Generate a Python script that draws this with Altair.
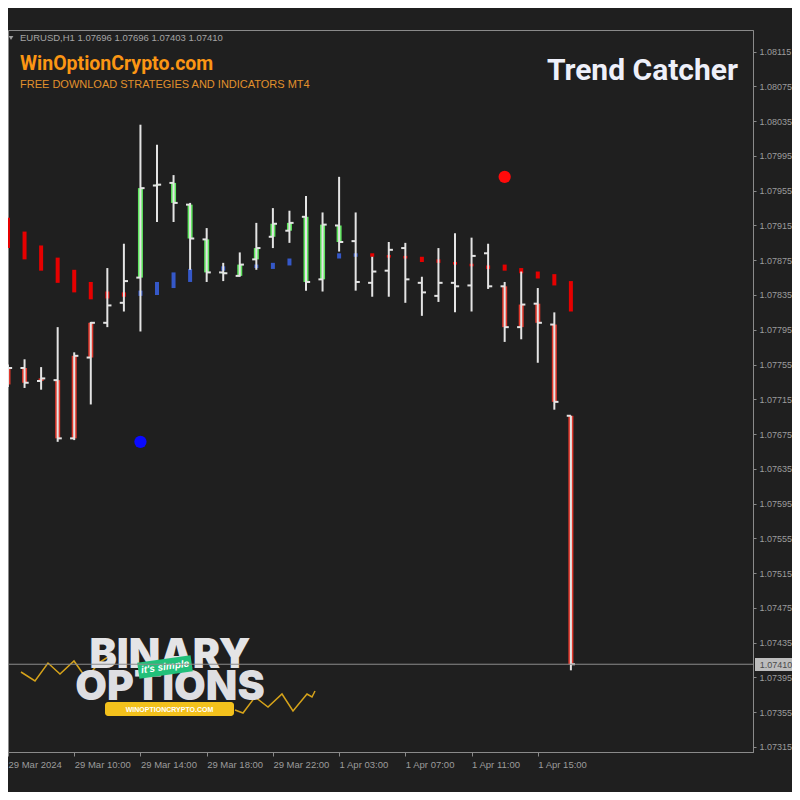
import json
import altair as alt
import pandas as pd

# ---------------- data ----------------
bar_idx = list(range(35))
opens = [1.07732, 1.07751, 1.07736, 1.07737, 1.07670, 1.07763, 1.07803, 1.07826, 1.07855, 1.07961,
         1.07964, 1.07939, 1.07899, 1.07861, 1.07857, 1.07876, 1.07902, 1.07909, 1.07925, 1.07853,
         1.07915, 1.07897, 1.07849, 1.07863, 1.07889, 1.07849, 1.07834, 1.07849, 1.07846, 1.07883,
         1.07845, 1.07798, 1.07825, 1.07801, 1.07696]
highs = [1.07755, 1.07761, 1.07752, 1.07798, 1.07769, 1.07804, 1.07866, 1.07894, 1.08031, 1.08008,
         1.07973, 1.07941, 1.07912, 1.07872, 1.07884, 1.07918, 1.07935, 1.07932, 1.07949, 1.07930,
         1.07971, 1.07930, 1.07879, 1.07896, 1.07895, 1.07856, 1.07889, 1.07906, 1.07901, 1.07894,
         1.07850, 1.07862, 1.07843, 1.07815, 1.07696]
lows = [1.07729, 1.07728, 1.07726, 1.07666, 1.07668, 1.07709, 1.07798, 1.07816, 1.07793, 1.07919,
        1.07919, 1.07864, 1.07850, 1.07851, 1.07856, 1.07864, 1.07889, 1.07895, 1.07840, 1.07839,
        1.07885, 1.07840, 1.07833, 1.07833, 1.07826, 1.07811, 1.07827, 1.07815, 1.07816, 1.07842,
        1.07781, 1.07784, 1.07757, 1.07703, 1.07403]
closes = [1.07751, 1.07734, 1.07739, 1.07670, 1.07765, 1.07803, 1.07823, 1.07851, 1.07958, 1.07962,
          1.07941, 1.07900, 1.07861, 1.07860, 1.07870, 1.07889, 1.07917, 1.07918, 1.07850, 1.07916,
          1.07896, 1.07850, 1.07862, 1.07887, 1.07853, 1.07838, 1.07849, 1.07845, 1.07880, 1.07845,
          1.07798, 1.07824, 1.07803, 1.07712, 1.07410]
# body colour of the Trend Catcher histogram: r = bearish, g = bullish, n = none
body_trend = list("rrrrrr" + "nn" + "ggggggggggggg" + "nnnnnnnnn" + "rrrrr")

# Trend Catcher stop line segments
line_hi = [1.07924, 1.07908, 1.07892, 1.07878, 1.07864, 1.07850, 1.07839, 1.07838, 1.07840, 1.07850,
           1.07861, 1.07865, 1.07865, 1.07868, 1.07869, 1.07870, 1.07872, 1.07877, 1.07877, 1.07879,
           1.07883, 1.07883, 1.07883, 1.07881, 1.07880, 1.07879, 1.07876, 1.07873, 1.07871, 1.07869,
           1.07870, 1.07866, 1.07862, 1.07859, 1.07851]
line_lo = [1.07889, 1.07876, 1.07863, 1.07849, 1.07838, 1.07830, 1.07831, 1.07833, 1.07834, 1.07835,
           1.07843, 1.07850, 1.07862, 1.07863, 1.07865, 1.07866, 1.07865, 1.07869, 1.07874, 1.07876,
           1.07877, 1.07879, 1.07879, 1.07878, 1.07877, 1.07873, 1.07872, 1.07870, 1.07868, 1.07865,
           1.07863, 1.07860, 1.07854, 1.07846, 1.07816]
line_trend = list("rrrrrrrr" + "bbbbbbbbbbbbbb" + "rrrrrrrrrrrrr")

# signal dots
dot_idx = [8, 30]
dot_price = [1.07666, 1.07971]
dot_kind = ["buy", "sell"]

last_price = 1.07410

x_tick_values = [0, 4, 8, 12, 16, 20, 24, 28, 32]
x_tick_labels = ["29 Mar 2024", "29 Mar 10:00", "29 Mar 14:00", "29 Mar 18:00", "29 Mar 22:00",
                 "1 Apr 03:00", "1 Apr 07:00", "1 Apr 11:00", "1 Apr 15:00"]
y_tick_values = [round(1.08115 - 0.0004 * k, 5) for k in range(21)]

header_text = "EURUSD,H1  1.07696 1.07696 1.07403 1.07410"

# logo zig-zag (pixel positions of decoration inside plot)
zig_left_x = [13, 27, 40, 52, 66, 78, 92, 100]
zig_left_y = [642, 651, 633, 644, 631, 648, 632, 627]
zig_right_x = [227, 235, 247, 260, 274, 285, 299, 304, 307]
zig_right_y = [680, 683, 667, 677, 664, 681, 664, 667, 661]

# ---------------- layout ----------------
W, H = 745, 722
XDOM = [0, 45]
YDOM = [1.07309, 1.08140]
FONT = "Liberation Sans"
BOLD = "Roboto"

COL = {"r": "#e60000", "b": "#3558c8", "br": "#e0382c", "bg": "#5ee65e",
       "buy": "#0a0aff", "sell": "#ff0a0a"}

df = pd.DataFrame({"i": bar_idx, "o": opens, "h": highs, "l": lows, "c": closes,
                   "body": body_trend, "lh": line_hi, "ll": line_lo, "lt": line_trend})
df["xl"] = df["i"] - 0.25
df["xr"] = df["i"] + 0.25
df["lcol"] = df["lt"].map(COL)
df["bcol"] = df["body"].map({"r": COL["br"], "g": COL["bg"], "n": "none"})

xs = alt.Scale(domain=XDOM, nice=False, zero=False)
ys = alt.Scale(domain=YDOM, nice=False, zero=False)

x_axis = alt.Axis(values=x_tick_values, labelExpr=f"{json.dumps(x_tick_labels)}[datum.value/4]",
                  labelAlign="left", labelBaseline="top", labelPadding=3, tickSize=4,
                  labelOverlap=False, labelBound=False, labelFlush=False, grid=False, title=None,
                  domainColor="#8a8a8a", tickColor="#8a8a8a", labelColor="#9c9c9c",
                  labelFont=FONT, labelFontSize=9.5)
y_axis = alt.Axis(values=y_tick_values, format=".5f", orient="right", tickSize=3, labelPadding=3,
                  grid=False, title=None, labelOverlap=False, labelBound=False,
                  domainColor="#8a8a8a", tickColor="#8a8a8a", labelColor="#9c9c9c",
                  labelFont=FONT, labelFontSize=9)


def X(f):
    return alt.X(f, scale=xs, axis=x_axis)


def Y(f):
    return alt.Y(f, scale=ys, axis=y_axis)


base = alt.Chart(df)

segs = base.mark_rule(strokeWidth=4).encode(
    x=X("i:Q"), y=Y("lh:Q"), y2="ll:Q", color=alt.Color("lcol:N", scale=None))

bodies = base.transform_filter("datum.body != 'n'").mark_rule(strokeWidth=5).encode(
    x=X("i:Q"), y=Y("o:Q"), y2="c:Q", color=alt.Color("bcol:N", scale=None))

wick_col = "#e4e4e4"
wicks = base.mark_rule(strokeWidth=2, color=wick_col).encode(x=X("i:Q"), y=Y("l:Q"), y2="h:Q")
open_ticks = base.mark_rule(strokeWidth=2, color=wick_col).encode(x=X("xl:Q"), x2="i:Q", y=Y("o:Q"))
close_ticks = base.mark_rule(strokeWidth=2, color=wick_col).encode(x=X("i:Q"), x2="xr:Q", y=Y("c:Q"))

ddf = pd.DataFrame({"i": dot_idx, "p": dot_price, "k": dot_kind})
ddf["col"] = ddf["k"].map(COL)
dots = alt.Chart(ddf).mark_circle(size=150, opacity=1).encode(
    x=X("i:Q"), y=Y("p:Q"), color=alt.Color("col:N", scale=None))

last_line = alt.Chart(pd.DataFrame({"p": [last_price]})).mark_rule(color="#8c8c8c", strokeWidth=1).encode(
    y=Y("p:Q"))

one = pd.DataFrame({"a": [0]})


def txt(text, x, y, **kw):
    return alt.Chart(one).mark_text(text=text, **kw).encode(x=alt.value(x), y=alt.value(y))


# price label on the axis
last_box = alt.Chart(one).mark_rect(color="#bdbdbd").encode(
    x=alt.value(747), x2=alt.value(790), y=alt.value(628), y2=alt.value(641))
last_txt = txt("1.07410", 768, 635, font=FONT, fontSize=9, color="#4a4a4a", align="center", baseline="middle")

tri = alt.Chart(one).mark_point(shape="triangle-down", filled=True, size=22, color="#a0a0a0", opacity=1).encode(
    x=alt.value(3), y=alt.value(8))
header = txt(header_text, 12, 8, font=FONT, fontSize=9.5, color="#a4a4a4", align="left", baseline="middle")
site = txt("WinOptionCrypto.com", 12, 40, font=BOLD, fontSize=19.5, fontWeight="bold",
           color="#fb9614", align="left", baseline="alphabetic")
slogan = txt("FREE DOWNLOAD STRATEGIES AND INDICATORS MT4", 12, 58, font=FONT, fontSize=11,
             color="#e2912c", align="left", baseline="alphabetic")
title = txt("Trend Catcher", 730, 50, font=BOLD, fontSize=30, fontWeight="bold",
            color="#eef0fa", align="right", baseline="alphabetic")

# logo
zz = pd.DataFrame({
    "px": zig_left_x + zig_right_x,
    "py": zig_left_y + zig_right_y,
    "seg": ["L"] * len(zig_left_x) + ["R"] * len(zig_right_x),
    "ord": list(range(len(zig_left_x))) + list(range(len(zig_right_x))),
})
zz["xi"] = XDOM[0] + zz["px"] / W * (XDOM[1] - XDOM[0])
zz["yp"] = YDOM[1] - zz["py"] / H * (YDOM[1] - YDOM[0])
zig = alt.Chart(zz).mark_line(color="#d6a31a", strokeWidth=1.5).encode(
    x=X("xi:Q"), y=Y("yp:Q"), detail="seg:N", order="ord:Q")

binary = txt("BINARY", 162, 638, font="Inter", fontSize=41, fontWeight=900, color="#e4e4e6",
             align="center", baseline="alphabetic")
options = txt("OPTIONS", 162, 670, font="Inter", fontSize=41, fontWeight=900, color="#dedee2",
              align="center", baseline="alphabetic")
tag = alt.Chart(one).mark_point(shape="M -1 -0.3 L 1 -0.3 L 1 0.3 L -1 0.3 Z", filled=True,
                                size=2900, angle=352, color="#22c07a", opacity=1).encode(
    x=alt.value(157), y=alt.value(637))
tag_txt = txt("it's simple", 157, 637, font=FONT, fontSize=10, fontStyle="italic", fontWeight="bold",
              color="#ffffff", angle=352, align="center", baseline="middle")
button = alt.Chart(one).mark_rect(color="#f3c11c", cornerRadius=3).encode(
    x=alt.value(97), x2=alt.value(226), y=alt.value(672), y2=alt.value(686))
button_txt = txt("WINOPTIONCRYPTO.COM", 161.5, 679.5, font=FONT, fontSize=7, fontWeight="bold",
                 color="#ffffff", align="center", baseline="middle")

chart = alt.layer(
    segs, bodies, wicks, open_ticks, close_ticks, dots,
    zig, binary, options, tag, tag_txt, button, button_txt,
    last_line, last_box, last_txt,
    tri, header, site, slogan, title,
).properties(
    width=W, height=H,
    padding={"left": 0, "top": 22, "right": 39, "bottom": 40},
    autosize=alt.AutoSizeParams(type="none"),
    background="#1f1f1f",
).configure_view(stroke="#8a8a8a", strokeWidth=1).configure_axis(labelOverlap=False)

chart.save("out.html", embed_options={"renderer": "svg", "actions": False})
